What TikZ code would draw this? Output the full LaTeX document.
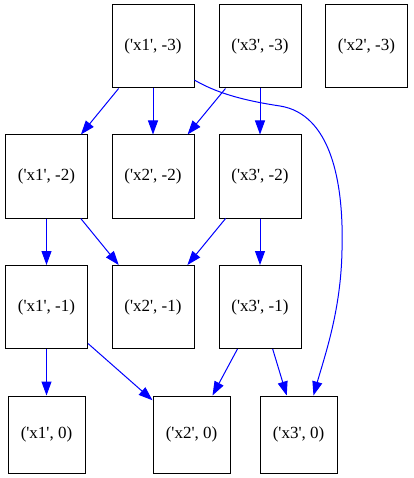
\documentclass[tikz,border=0pt]{standalone}
\usepackage{fontspec}
\setmainfont{Liberation Serif}
\usetikzlibrary{arrows.meta, positioning}
\newcommand{\sq}{\textquotesingle}

\begin{document}
\begin{tikzpicture}[x=1pt, y=-1pt,
    cell/.style={draw, line width=1pt, minimum width=82pt, minimum height=83pt, inner sep=0pt, font=\fontsize{17}{20}\selectfont},
    leaf/.style={cell, minimum width=77pt, minimum height=77pt},
    link/.style={draw=blue, line width=1pt, -{Triangle[length=14pt, width=10pt]}}]
  \useasboundingbox (0,0) rectangle (413,478);

  % step -3
  \node[cell] (x1m3) at (153,46.5) {(\sq x1\sq, -3)};
  \node[cell] (x3m3) at (260,46.5) {(\sq x3\sq, -3)};
  \node[cell] (x2m3) at (366.5,46.5) {(\sq x2\sq, -3)};
  % step -2
  \node[cell] (x1m2) at (46.5,176.5) {(\sq x1\sq, -2)};
  \node[cell] (x2m2) at (153,176.5) {(\sq x2\sq, -2)};
  \node[cell] (x3m2) at (260,176.5) {(\sq x3\sq, -2)};
  % step -1
  \node[cell] (x1m1) at (46.5,307) {(\sq x1\sq, -1)};
  \node[cell] (x2m1) at (153,307) {(\sq x2\sq, -1)};
  \node[cell] (x3m1) at (260,307) {(\sq x3\sq, -1)};
  % step 0
  \node[leaf] (x1z) at (46.5,434.5) {(\sq x1\sq, 0)};
  \node[leaf] (x2z) at (191.5,434.5) {(\sq x2\sq, 0)};
  \node[leaf] (x3z) at (298.5,434.5) {(\sq x3\sq, 0)};

  \draw[link] (x1m3) -- (x1m2);
  \draw[link] (x1m3) -- (x2m2);
  \draw[link] (x3m3) -- (x2m2);
  \draw[link] (x3m3) -- (x3m2);
  \draw[link] (x1m2) -- (x1m1);
  \draw[link] (x1m2) -- (x2m1);
  \draw[link] (x3m2) -- (x2m1);
  \draw[link] (x3m2) -- (x3m1);
  \draw[link] (x1m1) -- (x1z);
  \draw[link] (x1m1) -- (x2z);
  \draw[link] (x3m1) -- (x2z);
  \draw[link] (x3m1) -- (x3z);
  % long edge round the right side
  \draw[link] (x1m3.-39) .. controls (215,92) and (240,100) .. (280,106)
    .. controls (330,114) and (344,180) .. (342,250)
    .. controls (341,310) and (325,355) .. (x3z.69);
\end{tikzpicture}
\end{document}
